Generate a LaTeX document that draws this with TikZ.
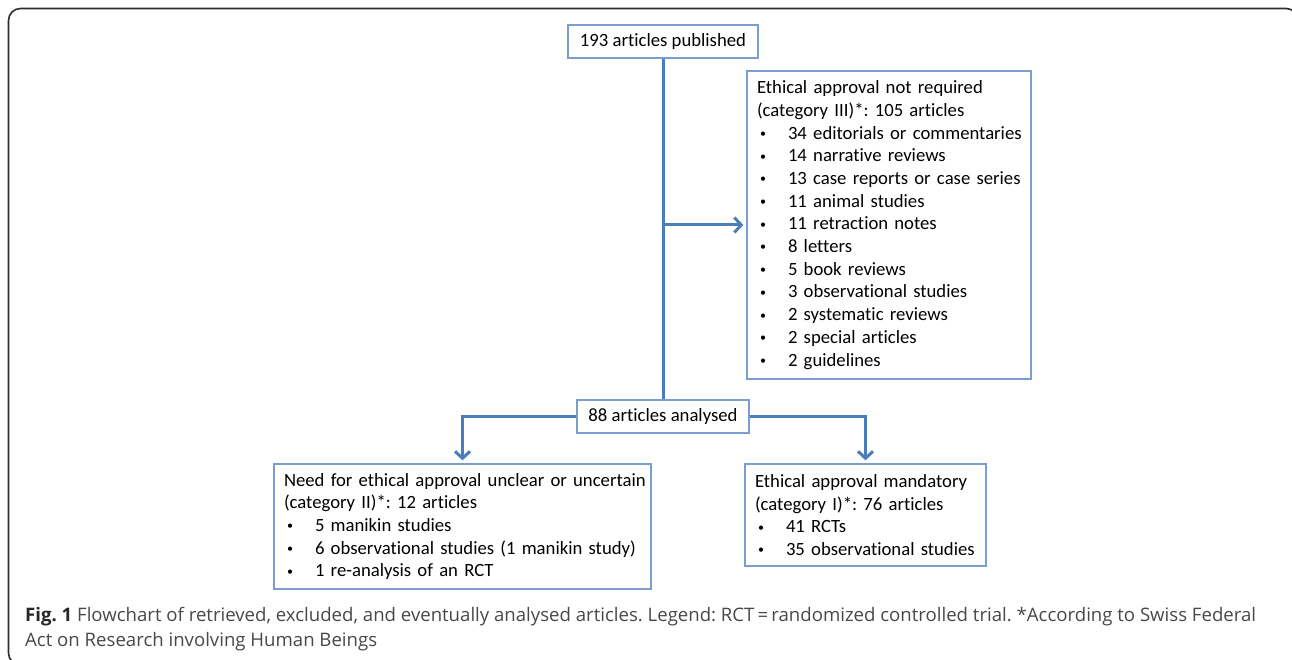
\documentclass[tikz,border=0pt]{standalone}
\usepackage{fontspec}
\usepackage{xcolor}
\usepackage{tikz}
\usetikzlibrary{arrows.meta, positioning, calc}
\setmainfont{Open Sans}
\newfontfamily\boxfont[Ligatures=NoCommon]{Carlito}
\definecolor{linkblue}{RGB}{74, 126, 187}
\definecolor{boxblue}{RGB}{122, 158, 208}
\definecolor{framegray}{RGB}{45, 45, 45}
\definecolor{captiongray}{RGB}{72, 72, 72}
\newcommand{\bline}[1]{\mbox{#1}}
\newcommand{\bitem}[1]{\mbox{\hspace*{3pt}\makebox[28pt][l]{\raisebox{1.6pt}{\fontsize{12}{12}\selectfont•}}#1}}

\begin{document}
\frenchspacing
\begin{tikzpicture}[
            x=1pt, y=-1pt,
            flowbox/.style={
                draw=boxblue,
                line width=1.3pt,
                inner xsep=10pt,
                inner ysep=0pt,
                align=left,
                font=\boxfont\fontsize{18.7}{22.7}\selectfont
            },
            link/.style={draw=linkblue, line width=3pt},
            linkarrow/.style={link, -{Straight Barb[length=7pt,width=15pt]}, shorten >=3pt},
            caption/.style={inner sep=0pt, anchor=base west, text=captiongray,
                font=\fontsize{18.6}{25}\selectfont}
        ]
            \useasboundingbox (0,0) rectangle (1292,660);
            % outer frame
            \draw[framegray, line width=1.6pt, rounded corners=12pt] (8.5,8.5) rectangle (1298,665);

            % boxes
            \node[flowbox, minimum width=190pt, minimum height=33pt] (published) at (663,41.5) {193 articles published};
            \node[flowbox, text width=264pt, minimum height=308pt] (notreq) at (889,225) {
                \bline{Ethical approval not required}\\
                \bline{(category III)*: 105 articles}\\
                \bitem{34 editorials or commentaries}\\
                \bitem{14 narrative reviews}\\
                \bitem{13 case reports or case series}\\
                \bitem{11 animal studies}\\
                \bitem{11 retraction notes}\\
                \bitem{8 letters}\\
                \bitem{5 book reviews}\\
                \bitem{3 observational studies}\\
                \bitem{2 systematic reviews}\\
                \bitem{2 special articles}\\
                \bitem{2 guidelines}
            };
            \node[flowbox, minimum width=172pt, minimum height=33pt] (analysed) at (663,416.5) {88 articles analysed};
            \node[flowbox, text width=357pt, minimum height=125pt] (unclear) at (462.5,526.5) {
                \bline{Need for ethical approval unclear or uncertain}\\
                \bline{(category II)*: 12 articles}\\
                \bitem{5 manikin studies}\\
                \bitem{6 observational studies (1 manikin study)}\\
                \bitem{1 re-analysis of an RCT}
            };
            \node[flowbox, text width=221pt, minimum height=102pt] (mandatory) at (865.5,515) {
                \bline{Ethical approval mandatory}\\
                \bline{(category I)*: 76 articles}\\
                \bitem{41 RCTs}\\
                \bitem{35 observational studies}
            };

            % connectors
            \draw[link] (published) -- (analysed);
            \draw[linkarrow] (published.south |- notreq.west) -- (notreq.west);
            \draw[linkarrow] (analysed.west) -| (unclear.north);
            \draw[linkarrow] (analysed.east) -| (mandatory.north);

            % caption
            \node[caption] (capone) at (25,621) {{\bfseries\color{black!85}Fig. 1} Flowchart of retrieved, excluded, and eventually analysed articles. Legend: RCT\,=\,randomized controlled trial. *According to Swiss Federal};
            \node[caption] (captwo) at (25,646) {Act on Research involving Human Beings};
        \end{tikzpicture}
\end{document}
